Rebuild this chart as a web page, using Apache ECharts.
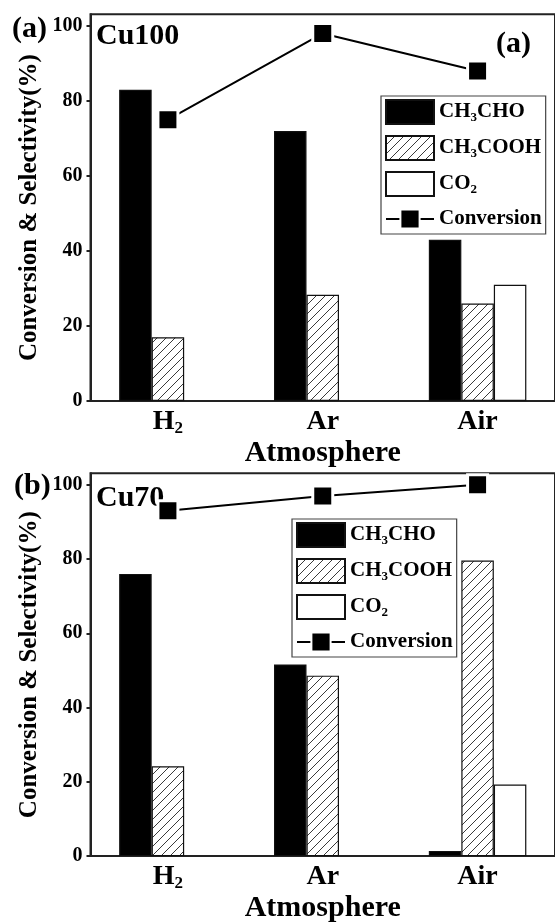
<!DOCTYPE html>
<html><head><meta charset="utf-8">
<script src="https://cdn.jsdelivr.net/npm/echarts@6/dist/echarts.min.js"></script>
<style>html,body{margin:0;padding:0;background:#fff}#c{width:555px;height:924px}</style>
</head><body><div id="c"></div>
<script>
// ---- data ----
const categories = ['H2', 'Ar', 'Air'];
const yTicks = [0, 20, 40, 60, 80, 100];
const seriesNames = ['CH3CHO', 'CH3COOH', 'CO2', 'Conversion'];
// Panel (a) Cu100
const cu100_CH3CHO = [83, 72, 43];
const cu100_CH3COOH = [17, 28.3, 26];
const cu100_CO2 = [null, null, 31];
const cu100_Conversion = [75, 98, 88];
// Panel (b) Cu70
const cu70_CH3CHO = [76, 51.6, 1.4];
const cu70_CH3COOH = [24.2, 48.6, 79.6];
const cu70_CO2 = [null, null, 19.3];
const cu70_Conversion = [93, 97, 100];

const FONT = '"Liberation Serif","Times New Roman",serif';

function hatchCanvas() {
  const s = 9;
  const c = document.createElement('canvas');
  c.width = s; c.height = s;
  const g = c.getContext('2d');
  g.fillStyle = '#fff'; g.fillRect(0, 0, s, s);
  g.strokeStyle = '#3a3a3a'; g.lineWidth = 1;
  g.beginPath();
  g.moveTo(-s, 2 * s); g.lineTo(2 * s, -s);
  g.moveTo(-2 * s, 2 * s); g.lineTo(s, -s);
  g.moveTo(0, 2 * s); g.lineTo(3 * s, -s);
  g.stroke();
  return c;
}
const hatch = { image: hatchCanvas(), repeat: 'repeat' };

const chart = echarts.init(document.getElementById('c'), null, { renderer: 'canvas' });

function barSeries(name, data, color, idx) {
  return {
    type: 'bar', name, data, xAxisIndex: idx, yAxisIndex: idx,
    barWidth: 32.5, barGap: '0%',
    itemStyle: { color, borderColor: '#111', borderWidth: 1.2 },
    z: 2
  };
}
function convSeries(data, idx) {
  return {
    type: 'line', name: 'Conversion', data, xAxisIndex: idx, yAxisIndex: idx,
    symbol: 'rect', symbolSize: 20,
    lineStyle: { color: '#000', width: 2 },
    itemStyle: { color: '#000', borderColor: '#fff', borderWidth: 3 },
    z: 5
  };
}
function xAxis(idx) {
  return {
    type: 'category', gridIndex: idx, data: categories,
    axisLine: { show: true, lineStyle: { color: '#222', width: 2 } },
    axisTick: { show: false },
    axisLabel: {
      interval: 0, margin: 6, fontFamily: FONT, fontWeight: 'bold', fontSize: 28, color: '#000', lineHeight: 30,
      formatter: v => v === 'H2' ? 'H{s|2}' : v,
      rich: { s: { fontSize: 17, fontWeight: 'bold', fontFamily: FONT, color: '#000', lineHeight: 4, verticalAlign: 'bottom' } }
    },
    name: 'Atmosphere', nameLocation: 'middle', nameGap: 35,
    nameTextStyle: { fontFamily: FONT, fontWeight: 'bold', fontSize: 30, color: '#000' }
  };
}
function yAxis(idx) {
  return {
    type: 'value', gridIndex: idx, min: 0, max: 103.1,
    name: 'Conversion & Selectivity(%)', nameLocation: 'middle', nameGap: 45,
    nameTextStyle: { fontFamily: FONT, fontWeight: 'bold', fontSize: 25, color: '#000' },
    axisLine: { show: true, lineStyle: { color: '#222', width: 2 } },
    axisTick: { show: true, inside: false, length: 4, customValues: yTicks, lineStyle: { color: '#222', width: 2 } },
    axisLabel: { customValues: yTicks, margin: 8, fontFamily: FONT, fontWeight: 'bold', fontSize: 20, color: '#000' },
    splitLine: { show: false }
  };
}
function legend(left, top) {
  return {
    orient: 'vertical', left, top,
    data: [
      { name: 'CH3CHO', icon: 'rect' },
      { name: 'CH3COOH', icon: 'rect' },
      { name: 'CO2', icon: 'rect' },
      { name: 'Conversion' }
    ],
    itemWidth: 48, itemHeight: 24, itemGap: 10,
    padding: [3, 4, 3, 4],
    borderColor: '#444', borderWidth: 1.2, backgroundColor: '#fff',
    selectedMode: false,
    formatter: n => ({ CH3CHO: 'CH{s|3}CHO', CH3COOH: 'CH{s|3}COOH', CO2: 'CO{s|2}', Conversion: 'Conversion' })[n],
    textStyle: {
      fontFamily: FONT, fontWeight: 'bold', fontSize: 21, color: '#000', lineHeight: 24,
      rich: { s: { fontFamily: FONT, fontWeight: 'bold', fontSize: 13, color: '#000', lineHeight: 3, verticalAlign: 'bottom' } }
    }
  };
}
function label(text, x, y) {
  return {
    type: 'text', x, y, z: 1,
    style: { text, fontFamily: FONT, fontWeight: 'bold', fontSize: 30, fill: '#000', align: 'left', verticalAlign: 'middle' }
  };
}

chart.setOption({
  backgroundColor: '#fff',
  animation: false,
  grid: [
    { left: 90.5, right: -12, top: 14.3, bottom: 523, show: true, borderColor: '#222', borderWidth: 2, backgroundColor: 'transparent' },
    { left: 90.5, right: -12, top: 473.3, bottom: 64, show: true, borderColor: '#222', borderWidth: 2, backgroundColor: 'transparent' }
  ],
  xAxis: [xAxis(0), xAxis(1)],
  yAxis: [yAxis(0), yAxis(1)],
  legend: [legend(381, 96), legend(292, 519)],
  graphic: [
    label('(a)', 12, 29),
    label('Cu100', 96, 36),
    label('(a)', 496, 44),
    label('(b)', 14, 486),
    label('Cu70', 96, 498)
  ],
  series: [
    barSeries('CH3CHO', cu100_CH3CHO, '#000', 0),
    barSeries('CH3COOH', cu100_CH3COOH, hatch, 0),
    barSeries('CO2', cu100_CO2, '#fff', 0),
    convSeries(cu100_Conversion, 0),
    barSeries('CH3CHO', cu70_CH3CHO, '#000', 1),
    barSeries('CH3COOH', cu70_CH3COOH, hatch, 1),
    barSeries('CO2', cu70_CO2, '#fff', 1),
    convSeries(cu70_Conversion, 1)
  ]
});
</script>
</body></html>
